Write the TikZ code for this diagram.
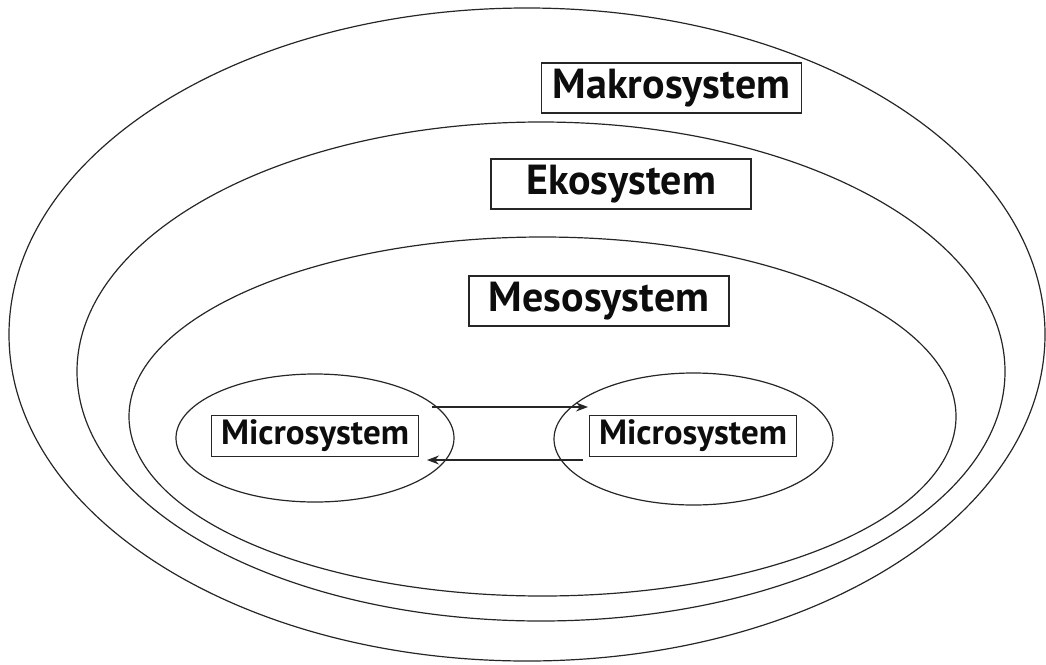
\documentclass[tikz,border=0pt]{standalone}
\usepackage{fontspec}
\setmainfont{PT Sans}
\usetikzlibrary{shapes.geometric,arrows.meta}
\begin{document}
\begin{tikzpicture}[x=1pt,y=-1pt,
  ring/.style={draw=black!85,ellipse,line width=1.2pt,inner sep=0pt,outer sep=0pt},
  biglabel/.style={draw=black!85,line width=1.1pt,inner sep=0pt,minimum width=260pt,minimum height=50pt,font=\fontsize{42}{44}\selectfont\bfseries,text=black!95},
  smalllabel/.style={draw=black!85,line width=1.1pt,inner sep=0pt,minimum width=207pt,minimum height=41pt,font=\fontsize{35}{37}\selectfont\bfseries,text=black!95},
  link/.style={draw=black!85,line width=1.1pt,-{Stealth[length=12pt,width=9pt,inset=4pt]}}]
\useasboundingbox (0,0) rectangle (1046,664);
\node[ring,minimum width=1036pt,minimum height=653pt] (makro) at (527,334.5) {};
\node[ring,minimum width=928pt,minimum height=499pt] (eko) at (541,371.5) {};
\node[ring,minimum width=827pt,minimum height=359pt] (meso) at (542.5,416.5) {};
\node[ring,minimum width=278pt,minimum height=128pt] (microL) at (315,438) {};
\node[ring,minimum width=279pt,minimum height=132pt] (microR) at (693.5,439) {};
\node[biglabel] (makroT) at (671.5,88) {Makrosystem};
\node[biglabel] (ekoT) at (621,184) {Ekosystem};
\node[biglabel] (mesoT) at (599,301) {Mesosystem};
\node[smalllabel] (microLT) at (315,436) {Microsystem};
\node[smalllabel] (microRT) at (693,436) {Microsystem};
\coordinate (a1s) at (432,407);
\coordinate (a1e) at (588,407);
\coordinate (a2s) at (583,460);
\coordinate (a2e) at (427,460);
\draw[link] (a1s) -- (a1e);
\draw[link] (a2s) -- (a2e);
\end{tikzpicture}
\end{document}
